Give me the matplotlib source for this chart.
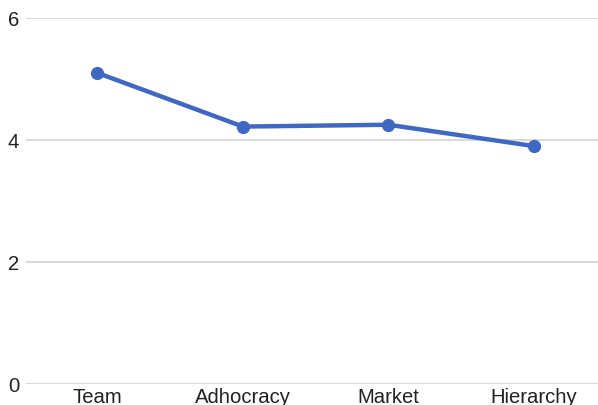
import matplotlib
matplotlib.use('Agg')
import matplotlib.pyplot as plt

# Data
categories = ['Team', 'Adhocracy', 'Market', 'Hierarchy']
scores = [5.1, 4.22, 4.25, 3.9]
y_ticks = [0, 2, 4, 6]

plt.rcParams['font.family'] = ['Liberation Sans', 'DejaVu Sans']

fig = plt.figure(figsize=(5.98, 4.05), dpi=100)
ax = fig.add_axes([26 / 598, 21 / 405, 572 / 598, 366 / 405])

x = range(len(categories))
ax.plot(x, scores, color='#3F67C4', linewidth=3.2, marker='o', markersize=8.5,
        solid_capstyle='round', zorder=3)

ax.set_ylim(0, 6)
ax.set_xlim(-0.49, 3.44)
ax.set_yticks(y_ticks)
ax.set_xticks(list(x))
ax.set_xticklabels(categories)

ax.grid(axis='y', color='#d0d0d0', linewidth=1.1)
ax.set_axisbelow(True)
for s in ax.spines.values():
    s.set_visible(False)
ax.tick_params(axis='both', length=0, labelsize=14.6, colors='#222222')
ax.tick_params(axis='y', pad=5)
ax.tick_params(axis='x', pad=3)

fig.savefig('out.png', dpi=100)
